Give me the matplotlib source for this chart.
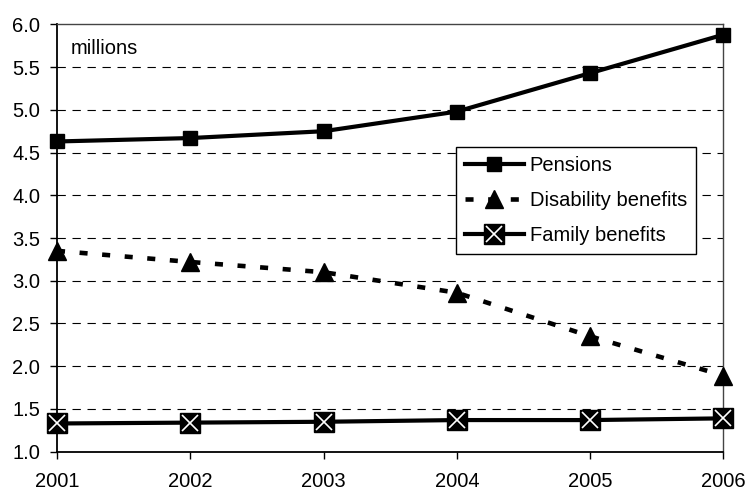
import matplotlib
matplotlib.use("Agg")
import matplotlib.pyplot as plt
from matplotlib.lines import Line2D

years = [2001, 2002, 2003, 2004, 2005, 2006]
pensions = [4.63, 4.67, 4.75, 4.98, 5.43, 5.88]
disability = [3.35, 3.22, 3.10, 2.86, 2.35, 1.89]
family = [1.33, 1.34, 1.35, 1.37, 1.37, 1.39]
series_names = ["Pensions", "Disability benefits", "Family benefits"]
y_ticks = [1.0, 1.5, 2.0, 2.5, 3.0, 3.5, 4.0, 4.5, 5.0, 5.5, 6.0]
unit_label = "millions"

plt.rcParams['font.family'] = ['Liberation Sans', 'DejaVu Sans']
plt.rcParams['lines.scale_dashes'] = False
FS = 14.5

fig = plt.figure(figsize=(7.48, 4.90), dpi=100)
ax = fig.add_axes([0.0762, 0.0782, 0.891, 0.872])

ax.set_xlim(years[0], years[-1])
ax.set_ylim(y_ticks[0], y_ticks[-1])
ax.set_yticks(y_ticks)
ax.set_yticklabels([f"{v:.1f}" for v in y_ticks])
ax.set_xticks(years)
ax.set_xticklabels([str(y) for y in years])

for v in y_ticks[1:-1]:
    ax.axhline(v, color='black', lw=0.8, linestyle=(0, (6, 4.8)), zorder=1)

l1, = ax.plot(years, pensions, color='black', lw=3, marker='s', ms=10.5,
              markerfacecolor='black', markeredgecolor='black', zorder=3, clip_on=False)
l2, = ax.plot(years, disability, color='black', lw=3.3, dashes=(5.8, 10.5),
              marker='^', ms=13, markerfacecolor='black', markeredgecolor='black',
              zorder=3, clip_on=False)
l3, = ax.plot(years, family, color='black', lw=3, marker='s', ms=14,
              markerfacecolor='black', markeredgecolor='black', zorder=3, clip_on=False)
l3x, = ax.plot(years, family, linestyle='none', marker='x', ms=11, mew=1.2,
               color='white', zorder=4, clip_on=False)

ax.tick_params(axis='y', direction='out', length=5, width=1, pad=7, labelsize=FS)
ax.tick_params(axis='x', direction='out', length=5, width=1, pad=9.5, labelsize=FS)

for s in ['left', 'bottom']:
    ax.spines[s].set_linewidth(1.3)
    ax.spines[s].set_color('black')
for s in ['top', 'right']:
    ax.spines[s].set_linewidth(1.0)
    ax.spines[s].set_color('#444444')

ax.text(0.0206, 0.943, unit_label, transform=ax.transAxes, fontsize=FS,
        ha='left', va='center')

leg = ax.legend([l1, l2, (l3, l3x)], series_names, loc='upper left',
                bbox_to_anchor=(0.599, 0.713), fontsize=FS, frameon=True,
                fancybox=False, framealpha=1, edgecolor='black',
                handlelength=2.9, handletextpad=0.3, borderpad=0.45,
                labelspacing=0.8, numpoints=1, borderaxespad=0)
leg.get_frame().set_linewidth(1.0)

fig.savefig("out.png", dpi=100)
